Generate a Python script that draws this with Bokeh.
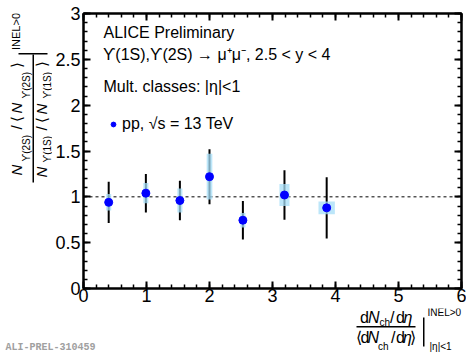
import math
from bokeh.plotting import figure
from bokeh.layouts import row, column
from bokeh.models import (Range1d, LinearAxis, FixedTicker, Label, BoxAnnotation,
                          Span, Legend, LegendItem, ColumnDataSource)
from bokeh.embed import file_html
from bokeh.resources import INLINE

# ---------------- data ----------------
mult = [0.40, 0.99, 1.53, 2.00, 2.53, 3.19, 3.86]
ratio = [0.94, 1.04, 0.96, 1.22, 0.745, 1.02, 0.88]
stat_err = [0.225, 0.21, 0.215, 0.30, 0.21, 0.27, 0.335]
sys_err = [0.09, 0.11, 0.13, 0.25, 0.08, 0.12, 0.07]
mult_err = [0.04, 0.04, 0.04, 0.045, 0.04, 0.08, 0.13]

x_ticks = [0, 1, 2, 3, 4, 5, 6]
x_tick_labels = ["0", "1", "2", "3", "4", "5", "6"]
x_minor = [i * 0.2 for i in range(31)]
y_ticks = [0, 0.5, 1, 1.5, 2, 2.5, 3]
y_tick_labels = ["0", "0.5", "1", "1.5", "2", "2.5", "3"]
y_minor = [i * 0.1 for i in range(31)]

FONT = "Liberation Sans"

# ---------------- layout constants (page pixels) ----------------
LW = 52            # width of left title strip
FL, FR = 81, 459   # frame left / right on the page
FT, FB = 13, 288   # frame top / bottom on the page
BOT = 20           # border below frame (tick labels)
TOP_H = FB + BOT   # height of upper row
BH = 354 - TOP_H   # height of bottom strip
MID = 0.31         # baseline -> em-box middle, in em


def mklabel(text, sx, sy, size, italic=False, angle=0.0, color="black",
            font=FONT, bold=False):
    style = "italic" if italic else ("bold" if bold else "normal")
    return Label(x=sx, y=sy, x_units="screen", y_units="screen",
                 text=text, text_font=font, text_font_size=f"{size}px",
                 text_font_style=style, text_align="left",
                 text_baseline="middle", angle=angle, text_color=color)


def mkbar(left, right, top, bottom):
    return BoxAnnotation(left=left, right=right, top=top, bottom=bottom,
                         left_units="screen", right_units="screen",
                         top_units="screen", bottom_units="screen",
                         fill_color="black", fill_alpha=1.0, line_color=None)


def blank_fig(fw, fh, top=0, bottom=0):
    f = figure(frame_width=fw, frame_height=fh,
               x_range=Range1d(0, fw), y_range=Range1d(0, fh),
               output_backend="svg", toolbar_location=None,
               x_axis_location=None, y_axis_location=None,
               min_border_left=0, min_border_right=0,
               min_border_top=top, min_border_bottom=bottom)
    f.grid.visible = False
    f.outline_line_color = None
    f.background_fill_color = "white"
    f.border_fill_color = "white"
    return f


# ---------------- main figure ----------------
p = figure(frame_width=FR - FL, frame_height=FB - FT,
           x_range=Range1d(0, 6), y_range=Range1d(0, 3),
           output_backend="svg", toolbar_location=None,
           min_border_left=FL - LW, min_border_right=466 - FR,
           min_border_top=FT, min_border_bottom=BOT)
p.grid.visible = False
p.outline_line_color = "black"
p.outline_line_width = 2
p.background_fill_color = "white"
p.border_fill_color = "white"


def style_axis(ax, ticks, minor, labels, show):
    ax.ticker = FixedTicker(ticks=ticks, minor_ticks=minor)
    ax.axis_line_width = 2
    ax.axis_line_color = "black"
    ax.major_tick_in = 7
    ax.major_tick_out = 0
    ax.minor_tick_in = 4
    ax.minor_tick_out = 0
    ax.major_tick_line_width = 2
    ax.minor_tick_line_width = 1.5
    if show:
        ax.major_label_overrides = dict(zip(ticks, labels))
        ax.major_label_text_font = FONT
        ax.major_label_text_font_size = "18px"
        ax.major_label_text_color = "black"
    else:
        ax.major_label_overrides = {t: "" for t in ticks}
        ax.major_label_text_font_size = "10px"
        ax.major_label_text_color = None
        ax.major_label_standoff = 0


style_axis(p.xaxis[0], x_ticks, x_minor, x_tick_labels, True)
p.xaxis[0].major_label_standoff = 0
style_axis(p.yaxis[0], y_ticks, y_minor, y_tick_labels, True)
p.yaxis[0].major_label_standoff = 3

top_ax = LinearAxis()
style_axis(top_ax, x_ticks, x_minor, x_tick_labels, False)
p.add_layout(top_ax, "above")
right_ax = LinearAxis()
style_axis(right_ax, y_ticks, y_minor, y_tick_labels, False)
p.add_layout(right_ax, "right")

p.add_layout(Span(location=1, dimension="width", line_color="black",
                  line_width=1, line_dash="3 3", level="underlay"))

src = ColumnDataSource(dict(
    x=mult, y=ratio,
    stat_lo=[v - e for v, e in zip(ratio, stat_err)],
    stat_hi=[v + e for v, e in zip(ratio, stat_err)],
    sys_lo=[v - e for v, e in zip(ratio, sys_err)],
    sys_hi=[v + e for v, e in zip(ratio, sys_err)],
    x_lo=[v - e for v, e in zip(mult, mult_err)],
    x_hi=[v + e for v, e in zip(mult, mult_err)],
))

p.segment(x0="x", y0="stat_lo", x1="x", y1="stat_hi", source=src,
          line_color="black", line_width=2)
p.quad(left="x_lo", right="x_hi", bottom="sys_lo", top="sys_hi", source=src,
       fill_color="#a6ddf7", fill_alpha=0.75, line_color=None)
pts = p.scatter(x="x", y="y", source=src, size=8, marker="circle",
                fill_color="#0000ff", line_color="#0000ff")

legend = Legend(items=[LegendItem(label="pp, \u221as = 13 TeV", renderers=[pts])],
                location=(105 - FL, FB - 134),
                background_fill_alpha=0, border_line_color=None,
                padding=0, margin=0, spacing=0,
                glyph_width=12, glyph_height=20, label_height=20,
                label_standoff=3, label_text_font=FONT,
                label_text_color="black",
                label_text_font_size="16px", label_text_baseline="middle")
p.add_layout(legend)


def in_frame(text, px, base, size, italic=False):
    p.add_layout(mklabel(text, px - FL, FB - (base - MID * size), size, italic=italic))


in_frame("ALICE Preliminary", 101, 37, 16)
in_frame("\u03d2(1S),\u03d2(2S) \u2192 \u03bc\u207a\u03bc\u207b, 2.5 < y < 4", 100.5, 59, 16)
in_frame("Mult. classes: |\u03b7|<1", 101, 91, 16)

# ---------------- left strip: y-axis title (rotated fraction) ----------------
tl = blank_fig(LW, FB - FT, top=FT, bottom=BOT)
A = math.pi / 2
# (text, baseline x, start y, size, italic)
ytitle = [
    ("N", 21, 175, 15, True), ("\u03d2(2S)", 29, 161, 10, False),
    ("/", 21, 129, 15, False), ("\u27e8", 21, 121, 15, False),
    ("N", 21, 113, 15, True), ("\u03d2(2S)", 29, 98, 10, False),
    ("\u27e9", 21, 67, 15, False),
    ("N", 46, 177, 15, True), ("\u03d2(1S)", 50, 162, 10, False),
    ("/", 46, 130, 15, False), ("\u27e8", 46, 122, 15, False),
    ("N", 46, 114, 15, True), ("\u03d2(1S)", 50, 98, 10, False),
    ("\u27e9", 46, 66, 15, False),
    ("INEL>0", 19, 49.5, 11, False),
]
for t, bx, sy, sz, it in ytitle:
    tl.add_layout(mklabel(t, bx - MID * sz, FB - sy, sz, italic=it, angle=A))
tl.add_layout(mkbar(32, 33.5, FB - 54, FB - 182))
tl.add_layout(mkbar(18, 47, FB - 52.5, FB - 54))

# ---------------- bottom strip: x-axis title + watermark ----------------
tb = blank_fig(466, BH)
# (text, x, baseline y, size, italic)
xtitle = [
    ("d", 359.5, 322, 16, False), ("N", 367.5, 322, 16, True),
    ("ch", 379, 325, 10, False), ("/", 389.5, 322, 16, False),
    ("d", 395.5, 322, 16, False), ("\u03b7", 403, 322, 16, True),
    ("\u27e8", 355.5, 342, 16, False), ("d", 360, 342, 16, False),
    ("N", 367, 342, 16, True), ("ch", 377.5, 349, 10, False),
    ("/", 390.5, 342, 16, False), ("d", 395.5, 342, 16, False),
    ("\u03b7", 402.5, 342, 16, True), ("\u27e9", 409, 342, 16, False),
    ("INEL>0", 427, 315, 10, False), ("|\u03b7|<1", 429, 349, 10, False),
]
for t, px, py, sz, it in xtitle:
    tb.add_layout(mklabel(t, px, 354 - (py - MID * sz), sz, italic=it))
tb.add_layout(mkbar(356, 415, 354 - 325.5, 354 - 327))
tb.add_layout(mkbar(422.5, 424, 354 - 317, 354 - 346))
tb.add_layout(mklabel("ALI-PREL-310459", 5, 354 - (350 - MID * 10), 10, bold=True,
                      color="#a0a0a0", font="Liberation Mono"))

layout = column(row(tl, p, spacing=0), tb, spacing=0)
open("out.html", "w").write(file_html(layout, INLINE))
